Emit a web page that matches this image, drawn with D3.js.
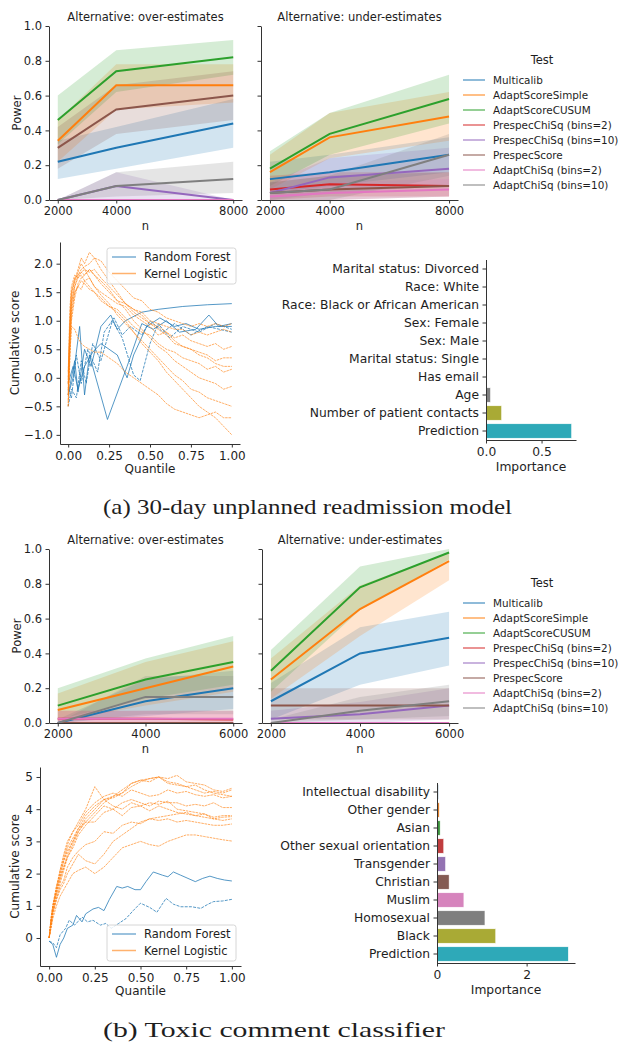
<!DOCTYPE html>
<html><head><meta charset="utf-8">
<script src="https://cdn.jsdelivr.net/npm/d3@7"></script>
<style>
body{margin:0;background:#fff}
svg text{fill:#1e1e1e}
</style></head><body>
<svg id="fig" width="621" height="1043" font-family="DejaVu Sans"></svg>
<script>
// ---- data ----
var testNames = ["Multicalib","AdaptScoreSimple","AdaptScoreCUSUM","PrespecChiSq (bins=2)","PrespecChiSq (bins=10)","PrespecScore","AdaptChiSq (bins=2)","AdaptChiSq (bins=10)"];
var nReadmit = [2000, 4000, 8000];
var nToxic = [2000, 4000, 6000];

// readmission, over-estimates
var readmitOverMean = [[0.22,0.30,0.44],[0.34,0.66,0.66],[0.46,0.74,0.82],[0,0,0],[0,0.08,0],[0.30,0.52,0.60],[0,0,0],[0,0.08,0.12]];
var readmitOverLo   = [[0.12,0.18,0.30],[0.22,0.52,0.56],[0.32,0.62,0.72],[0,0,0],[0,0,0],[0.18,0.38,0.46],[0,0,0],[0,0.02,0.04]];
var readmitOverHi   = [[0.34,0.42,0.58],[0.46,0.78,0.78],[0.60,0.86,0.92],[0,0,0],[0,0.16,0],[0.42,0.66,0.74],[0,0,0],[0,0.16,0.22]];
// readmission, under-estimates
var readmitUnderMean = [[0.12,0.16,0.26],[0.16,0.36,0.48],[0.18,0.38,0.58],[0.06,0.09,0.08],[0.04,0.13,0.18],[0.04,0.06,0.08],[0.02,0.04,0.06],[0.04,0.06,0.26]];
var readmitUnderLo   = [[0.04,0.08,0.16],[0.06,0.24,0.34],[0.08,0.26,0.44],[0,0.02,0.02],[0,0.04,0.08],[0,0,0.02],[0,0,0.02],[0,0,0.14]];
var readmitUnderHi   = [[0.22,0.26,0.36],[0.26,0.50,0.62],[0.28,0.50,0.72],[0.14,0.16,0.16],[0.10,0.24,0.30],[0.10,0.14,0.16],[0.06,0.10,0.12],[0.10,0.14,0.38]];
// toxic, over-estimates
var toxicOverMean = [[0,0.125,0.20],[0.075,0.20,0.325],[0.10,0.25,0.35],[0.025,0.025,0.02],[0,0,0],[0,0,0],[0.025,0.025,0.025],[0,0.15,0.15]];
var toxicOverLo   = [[0,0.04,0.08],[0.01,0.10,0.18],[0.02,0.14,0.22],[0,0,0],[0,0,0],[0,0,0],[0,0,0],[0,0.05,0.05]];
var toxicOverHi   = [[0.02,0.25,0.30],[0.17,0.35,0.47],[0.20,0.37,0.50],[0.07,0.07,0.07],[0,0,0],[0,0,0],[0.07,0.07,0.07],[0,0.27,0.27]];
// toxic, under-estimates
var toxicUnderMean = [[0.125,0.40,0.49],[0.25,0.655,0.93],[0.30,0.78,0.98],[0,0,0],[0.025,0.05,0.10],[0.10,0.10,0.10],[0,0,0],[0,0.07,0.125]];
var toxicUnderLo   = [[0.02,0.22,0.33],[0.14,0.50,0.82],[0.18,0.65,0.94],[0,0,0],[0,0,0.02],[0.02,0.02,0.02],[0,0,0],[0,0.02,0.04]];
var toxicUnderHi   = [[0.23,0.55,0.64],[0.37,0.79,0.98],[0.42,0.90,1.0],[0,0,0],[0.07,0.12,0.20],[0.20,0.20,0.20],[0,0,0],[0.02,0.15,0.22]];

// feature importance
var readmitFeatures = ["Marital status: Divorced","Race: White","Race: Black or African American","Sex: Female","Sex: Male","Marital status: Single","Has email","Age","Number of patient contacts","Prediction"];
var readmitImportance = [0.001,0.001,0.001,0.001,0.001,0.001,0.001,0.04,0.14,0.77];
var toxicFeatures = ["Intellectual disability","Other gender","Asian","Other sexual orientation","Transgender","Christian","Muslim","Homosexual","Black","Prediction"];
var toxicImportance = [0.03,0.05,0.07,0.15,0.19,0.27,0.60,1.07,1.31,2.93];

// cumulative score curves (Kernel Logistic on a shared quantile grid)
var quantileGrid = [0,0.01,0.02,0.04,0.06,0.08,0.10,0.13,0.16,0.20,0.25,0.30,0.35,0.40,0.45,0.50,0.55,0.60,0.65,0.70,0.75,0.80,0.85,0.90,0.95,1.00];
var readmitKernel = [
  [-0.3,0.6,1.3,1.6,1.8,1.9,1.95,2.0,2.1,2.05,1.85,1.7,1.55,1.4,1.35,1.2,1.15,1.05,1.0,0.95,0.9,0.95,0.9,0.95,0.9,0.95],
  [-0.1,0.9,1.5,1.7,1.85,2.0,1.9,1.85,1.9,1.75,1.6,1.45,1.3,1.2,1.15,1.0,0.95,0.9,0.85,0.85,0.75,0.8,0.75,0.8,0.85,0.8],
  [-0.5,0.3,1.0,1.4,1.65,1.75,1.8,1.9,1.8,1.7,1.55,1.35,1.3,1.15,1.05,0.95,0.9,0.8,0.7,0.75,0.65,0.6,0.55,0.6,0.5,0.55],
  [0.0,1.2,1.6,1.8,1.75,1.85,1.9,1.75,1.6,1.5,1.4,1.3,1.25,1.1,1.0,0.9,0.75,0.8,0.65,0.55,0.5,0.45,0.4,0.3,0.35,0.35],
  [-0.2,0.8,1.4,1.7,1.9,2.1,2.0,2.2,2.1,1.9,1.7,1.5,1.3,1.2,1.1,0.95,0.85,0.75,0.6,0.55,0.5,0.4,0.35,0.25,0.2,0.2],
  [-0.4,0.5,1.1,1.5,1.6,1.7,1.65,1.55,1.5,1.4,1.25,1.2,1.05,0.9,0.8,0.75,0.6,0.5,0.45,0.35,0.3,0.25,0.15,0.2,0.1,0.15],
  [0.1,1.0,1.5,1.75,1.8,1.85,1.8,1.9,1.8,1.65,1.5,1.35,1.2,1.0,0.85,0.7,0.55,0.45,0.3,0.2,0.1,0.0,-0.05,-0.1,-0.2,-0.15],
  [-0.3,0.7,1.2,1.5,1.6,1.55,1.7,1.6,1.5,1.35,1.25,1.15,1.0,0.8,0.65,0.5,0.35,0.2,0.05,-0.05,-0.2,-0.25,-0.35,-0.4,-0.45,-0.5],
  [-0.5,0.4,0.9,0.85,0.7,0.6,0.55,0.5,0.45,0.45,0.35,0.25,0.1,0.0,-0.1,-0.2,-0.3,-0.45,-0.55,-0.6,-0.65,-0.7,-0.65,-0.6,-0.7,-0.7],
  [-0.1,0.8,1.3,1.6,1.75,1.8,1.7,1.75,1.6,1.45,1.3,1.1,0.95,0.8,0.6,0.45,0.3,0.1,-0.05,-0.2,-0.35,-0.5,-0.6,-0.7,-0.85,-1.0]
];
var toxicKernel = [
  [0,0.6,1.0,1.6,2.0,2.4,2.7,3.0,3.4,3.6,3.9,4.2,4.4,4.5,4.7,4.85,4.95,5.0,4.95,5.05,4.85,4.8,4.75,4.6,4.55,4.65],
  [0,0.5,0.9,1.5,2.1,2.6,3.0,3.3,3.6,4.0,4.7,4.3,4.35,4.5,4.8,4.9,4.85,5.0,4.85,4.8,4.7,4.75,4.6,4.5,4.45,4.4],
  [0,0.4,0.8,1.4,1.8,2.2,2.6,3.0,3.3,3.7,4.0,4.3,4.4,4.6,4.8,4.9,4.95,5.0,4.8,4.75,4.7,4.6,4.5,4.55,4.5,4.6],
  [0,0.5,0.8,1.3,1.7,2.1,2.5,2.8,3.2,3.5,3.8,4.1,4.0,4.2,4.3,4.2,4.1,4.25,4.2,4.2,4.1,4.15,4.1,4.2,4.05,4.05],
  [0,0.6,1.0,1.4,1.9,2.2,2.5,2.9,3.3,3.6,3.6,3.9,4.0,3.8,4.05,4.1,4.2,4.15,4.25,4.0,3.95,3.9,3.85,3.75,3.8,3.8],
  [0,0.3,0.7,1.2,1.6,1.8,2.2,2.5,2.7,2.9,3.0,3.3,3.25,3.5,3.6,3.55,3.7,3.75,3.8,3.85,3.9,3.8,3.85,3.7,3.75,3.77],
  [0,0.4,0.8,1.2,1.5,1.7,2.0,2.3,2.6,2.4,2.3,2.6,3.0,3.2,3.4,3.6,3.7,3.65,3.7,3.6,3.65,3.6,3.55,3.5,3.5,3.54],
  [0,0.3,0.6,1.0,1.3,1.5,1.7,2.0,2.1,2.2,2.0,2.2,2.5,2.8,2.9,3.0,2.9,2.85,3.0,3.1,3.2,3.2,3.15,3.1,3.05,3.01],
  [0,0.5,0.9,1.5,1.9,2.4,2.8,3.1,3.4,3.8,4.1,4.3,4.1,4.0,4.2,4.1,3.95,4.1,4.0,3.9,3.85,3.8,3.75,3.7,3.65,3.7],
  [0,0.5,1.0,1.6,2.1,2.5,2.9,3.3,3.5,3.9,4.2,4.4,4.5,4.4,4.6,4.5,4.4,4.45,4.6,4.5,4.55,4.45,4.4,4.45,4.35,4.4]
];
// Random Forest curves as [quantile, score] pairs
var readmitForest = [
  [[0,-0.3],[0.03,0.0],[0.07,0.9],[0.1,-0.3],[0.13,0.4],[0.24,-0.73],[0.36,0.2],[0.45,0.95],[0.52,0.85],[0.6,1.0],[0.68,0.8],[0.78,0.85],[0.86,1.1],[0.92,0.9],[1.0,0.95]],
  [[0,-0.5],[0.02,-0.2],[0.05,-0.35],[0.08,0.3],[0.11,-0.1],[0.15,0.6],[0.2,0.3],[0.27,1.0],[0.33,0.7],[0.4,0.05],[0.44,-0.05],[0.5,0.6],[0.55,0.95],[0.62,0.7],[0.7,0.9],[0.8,0.8],[0.9,0.95],[1.0,0.85]],
  [[0,-0.3],[0.04,0.3],[0.06,-0.25],[0.1,0.5],[0.14,0.2],[0.2,0.9],[0.26,1.1],[0.3,0.85],[0.35,1.0],[0.45,1.15],[0.55,1.2],[0.7,1.25],[0.85,1.28],[1.0,1.3]],
  [[0,-0.2],[0.02,-0.35],[0.05,0.4],[0.08,-0.1],[0.12,0.5],[0.18,0.1],[0.22,0.8],[0.28,1.05],[0.33,0.75],[0.38,0.9],[0.45,0.75],[0.5,1.0],[0.58,0.8],[0.65,0.95],[0.75,0.75],[0.85,0.9],[1.0,0.8]],
  [[0,-0.1],[0.03,0.2],[0.06,-0.2],[0.1,0.2],[0.15,0.45],[0.2,0.6],[0.3,0.4],[0.36,0.0],[0.4,0.4],[0.48,0.9],[0.56,1.05],[0.65,0.9],[0.72,0.95],[0.8,0.85],[0.9,0.9],[1.0,0.9]]
];
var toxicForest = [
  [[0,-0.1],[0.02,-0.2],[0.04,-0.6],[0.06,-0.2],[0.08,0.0],[0.1,0.3],[0.13,0.4],[0.15,0.7],[0.18,0.5],[0.2,0.75],[0.24,0.9],[0.27,0.95],[0.3,0.85],[0.33,1.2],[0.37,1.6],[0.4,1.55],[0.43,1.6],[0.47,1.5],[0.5,1.5],[0.53,1.75],[0.57,2.05],[0.62,1.95],[0.65,1.9],[0.68,2.05],[0.72,1.95],[0.76,1.85],[0.8,1.75],[0.84,1.85],[0.88,1.92],[0.92,1.85],[0.96,1.8],[1.0,1.77]],
  [[0,-0.1],[0.02,-0.15],[0.04,-0.3],[0.06,0.1],[0.09,0.3],[0.11,0.55],[0.14,0.4],[0.18,0.65],[0.21,0.5],[0.24,0.55],[0.28,0.4],[0.31,0.45],[0.34,0.3],[0.38,0.45],[0.42,0.6],[0.46,0.85],[0.5,1.08],[0.55,0.95],[0.59,0.8],[0.64,1.23],[0.68,1.05],[0.72,0.97],[0.78,0.97],[0.83,0.92],[0.87,1.05],[0.9,1.13],[0.95,1.15],[1.0,1.2]]
];

var tab10 = ["#1f77b4","#ff7f0e","#2ca02c","#d62728","#9467bd","#8c564b","#e377c2","#7f7f7f","#bcbd22","#17becf"];
var barColors = ["#3274a1","#e1812c","#3a923a","#c03d3e","#9372b2","#845b53","#d684bd","#7f7f7f","#a9aa35","#2ea9b8"];

var svg = d3.select("#fig");

function styleAxis(g, fs) {
  g.attr("font-family", "DejaVu Sans").attr("font-size", fs);
  g.select(".domain").attr("stroke", "#333").attr("stroke-width", 1);
  g.selectAll(".tick line").attr("stroke", "#333");
  g.selectAll(".tick text").attr("fill", "#1e1e1e");
}

function powerPanel(nVals, mean, lo, hi, x0, x1, yTop, yBot, title, showYLabels) {
  var pad = 0.05 * (nVals[2] - nVals[0]);
  var x = d3.scaleLinear().domain([nVals[0] - pad, nVals[2] + pad]).range([x0, x1]);
  var y = d3.scaleLinear().domain([0, 1]).range([yBot, yTop]);
  var g = svg.append("g");
  var area = d3.area().x(function(d){ return x(d.n); }).y0(function(d){ return y(d.lo); }).y1(function(d){ return y(d.hi); });
  var line = d3.line().x(function(d){ return x(d.n); }).y(function(d){ return y(d.m); });
  var rows = testNames.map(function(name, i) {
    return nVals.map(function(n, j){ return {n: n, m: mean[i][j], lo: lo[i][j], hi: hi[i][j]}; });
  });
  g.selectAll("path.band").data(rows).enter().append("path")
    .attr("class", "band").attr("d", area)
    .attr("fill", function(d, i){ return tab10[i]; }).attr("fill-opacity", 0.2);
  g.selectAll("path.mean").data(rows).enter().append("path")
    .attr("class", "mean").attr("d", line).attr("fill", "none")
    .attr("stroke", function(d, i){ return tab10[i]; }).attr("stroke-width", 2);

  var ax = g.append("g").attr("transform", "translate(0," + yBot + ")")
    .call(d3.axisBottom(x).tickValues(nVals).tickFormat(d3.format("d")).tickSize(3.5).tickPadding(3.5).tickSizeOuter(0));
  styleAxis(ax, 11.5);
  var ay = g.append("g").attr("transform", "translate(" + x0 + ",0)")
    .call(d3.axisLeft(y).ticks(5).tickFormat(showYLabels ? d3.format(".1f") : "").tickSize(3.5).tickPadding(3.5).tickSizeOuter(0));
  styleAxis(ay, 11.5);

  g.append("text").attr("x", (x0 + x1) / 2).attr("y", yTop - 5).attr("text-anchor", "middle")
    .attr("font-size", 11.5).text(title);
  g.append("text").attr("x", (x0 + x1) / 2).attr("y", yBot + 30).attr("text-anchor", "middle")
    .attr("font-size", 11.5).text("n");
  if (showYLabels) {
    g.append("text").attr("transform", "translate(21," + (yTop + yBot) / 2 + ") rotate(-90)")
      .attr("text-anchor", "middle").attr("font-size", 11.5).text("Power");
  }
}

function testLegend(titleY) {
  var g = svg.append("g");
  g.append("text").attr("x", 542).attr("y", titleY).attr("text-anchor", "middle")
    .attr("font-size", 11.5).text("Test");
  testNames.forEach(function(name, i) {
    var yy = titleY + 16 + i * 15;
    g.append("line").attr("x1", 463).attr("x2", 485).attr("y1", yy).attr("y2", yy)
      .attr("stroke", tab10[i]).attr("stroke-width", 2).attr("stroke-opacity", 0.5);
    g.append("text").attr("x", 493).attr("y", yy).attr("dy", "0.35em").attr("font-size", 10.4).text(name);
  });
}

function cumulativePanel(kernel, forest, x0, x1, yTop, yBot, yDomain, legendX, legendY, yTickVals, yFmt) {
  var x = d3.scaleLinear().domain([-0.05, 1.05]).range([x0, x1]);
  var y = d3.scaleLinear().domain(yDomain).range([yBot, yTop]);
  var g = svg.append("g");
  var line = d3.line().x(function(d){ return x(d[0]); }).y(function(d){ return y(d[1]); });
  forest.forEach(function(c, i) {
    g.append("path").attr("d", line(c)).attr("fill", "none").attr("stroke", tab10[0])
      .attr("stroke-width", 0.9).attr("stroke-opacity", 0.85)
      .attr("stroke-dasharray", i % 2 ? "3,1.2" : null);
  });
  kernel.forEach(function(vals) {
    var pts = quantileGrid.map(function(q, j){ return [q, vals[j]]; });
    g.append("path").attr("d", line(pts)).attr("fill", "none").attr("stroke", tab10[1])
      .attr("stroke-width", 0.8).attr("stroke-opacity", 0.8).attr("stroke-dasharray", "2.5,0.8");
  });
  var ax = g.append("g").attr("transform", "translate(0," + yBot + ")")
    .call(d3.axisBottom(x).tickValues([0, 0.25, 0.5, 0.75, 1]).tickFormat(d3.format(".2f")).tickSize(3.5).tickPadding(3.5).tickSizeOuter(0));
  styleAxis(ax, 12);
  var ay = g.append("g").attr("transform", "translate(" + x0 + ",0)")
    .call(d3.axisLeft(y).tickValues(yTickVals).tickFormat(d3.format(yFmt)).tickSize(3.5).tickPadding(3.5).tickSizeOuter(0));
  styleAxis(ay, 12);
  g.append("text").attr("x", (x0 + x1) / 2).attr("y", yBot + 29).attr("text-anchor", "middle")
    .attr("font-size", 12).text("Quantile");
  g.append("text").attr("transform", "translate(19," + (yTop + yBot) / 2 + ") rotate(-90)")
    .attr("text-anchor", "middle").attr("font-size", 12).text("Cumulative score");

  var lg = g.append("g").attr("transform", "translate(" + legendX + "," + legendY + ")");
  lg.append("rect").attr("width", 129).attr("height", 36).attr("rx", 2.5)
    .attr("fill", "#fff").attr("fill-opacity", 0.8).attr("stroke", "#ccc").attr("stroke-width", 0.8);
  ["Random Forest", "Kernel Logistic"].forEach(function(name, i) {
    var yy = 9 + i * 16.5;
    lg.append("line").attr("x1", 5).attr("x2", 29).attr("y1", yy).attr("y2", yy)
      .attr("stroke", tab10[i]).attr("stroke-width", 1.5).attr("stroke-opacity", 0.6);
    lg.append("text").attr("x", 37).attr("y", yy).attr("dy", "0.35em").attr("font-size", 11.5).text(name);
  });
}

function barPanel(features, values, x0, x1, yTop, yBot, xMax, tickVals, fmt) {
  var x = d3.scaleLinear().domain([0, xMax]).range([x0, x1]);
  var y = d3.scaleBand().domain(features).range([yTop, yBot]).paddingInner(0.2).paddingOuter(0.1);
  var g = svg.append("g");
  g.selectAll("rect").data(values).enter().append("rect")
    .attr("x", x(0)).attr("y", function(d, i){ return y(features[i]); })
    .attr("width", function(d){ return x(d) - x(0); }).attr("height", y.bandwidth())
    .attr("fill", function(d, i){ return barColors[i]; })
    .attr("stroke", "#fff").attr("stroke-width", 0.5);
  var ax = g.append("g").attr("transform", "translate(0," + yBot + ")")
    .call(d3.axisBottom(x).tickValues(tickVals).tickFormat(d3.format(fmt)).tickSize(3.5).tickPadding(3.5).tickSizeOuter(0));
  styleAxis(ax, 12.3);
  var ay = g.append("g").attr("transform", "translate(" + x0 + ",0)")
    .call(d3.axisLeft(y).tickSize(3.5).tickPadding(3.5).tickSizeOuter(0));
  styleAxis(ay, 12.3);
  ay.select(".domain").attr("d", "M0.5," + yTop + "V" + yBot);
  g.append("text").attr("x", (x0 + x1) / 2).attr("y", yBot + 31).attr("text-anchor", "middle")
    .attr("font-size", 12.3).text("Importance");
}

// (a) readmission
powerPanel(nReadmit, readmitOverMean, readmitOverLo, readmitOverHi, 49, 242, 26, 200, "Alternative: over-estimates", true);
powerPanel(nReadmit, readmitUnderMean, readmitUnderLo, readmitUnderHi, 261, 458, 26, 200, "Alternative: under-estimates", false);
testLegend(64);
cumulativePanel(readmitKernel, readmitForest, 60, 240, 242, 444, [-1.16, 2.38], 107, 248, [-1, -0.5, 0, 0.5, 1, 1.5, 2], ".1f");
barPanel(readmitFeatures, readmitImportance, 486, 576, 260, 440, 0.81, [0, 0.5], ".1f");

// (b) toxic comments
powerPanel(nToxic, toxicOverMean, toxicOverLo, toxicOverHi, 49, 242, 549, 723, "Alternative: over-estimates", true);
powerPanel(nToxic, toxicUnderMean, toxicUnderLo, toxicUnderHi, 262, 458, 549, 723, "Alternative: under-estimates", false);
testLegend(587);
cumulativePanel(toxicKernel, toxicForest, 40, 241, 767, 966, [-0.87, 5.31], 107, 925, [0, 1, 2, 3, 4, 5], "d");
barPanel(toxicFeatures, toxicImportance, 437, 575, 783, 963, 3.08, [0, 2], "d");

// captions
svg.append("text").attr("x", 103).attr("y", 514).attr("font-family", "Liberation Serif")
  .attr("font-size", 22).attr("textLength", 409).attr("lengthAdjust", "spacingAndGlyphs")
  .text("(a) 30-day unplanned readmission model");
svg.append("text").attr("x", 103).attr("y", 1037).attr("font-family", "Liberation Serif")
  .attr("font-size", 22).attr("textLength", 342).attr("lengthAdjust", "spacingAndGlyphs")
  .text("(b) Toxic comment classifier");
</script></body></html>
